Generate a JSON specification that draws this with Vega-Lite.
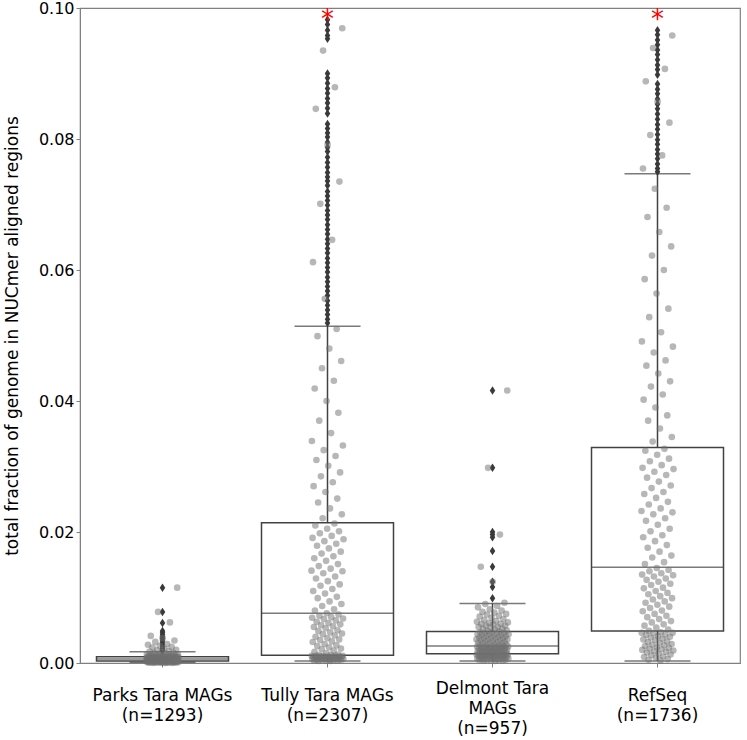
{
"$schema":"https://vega.github.io/schema/vega-lite/v6.json",
"width":660,"height":655,
"autosize":{"type":"none"},
"padding":{"left":80,"top":8,"right":7,"bottom":77},
"background":"white",
"config":{"view":{"stroke":"#808080","strokeWidth":1.2},"font":"DejaVu Sans"},
"resolve":{"scale":{"xOffset":"independent"}},
"datasets":{
"box":[
{"g":"Parks","lo":0.0001,"q1":0.0003,"med":0.0006,"q3":0.00096,"hi":0.0017},
{"g":"Tully","lo":0.0003,"q1":0.0012,"med":0.0076,"q3":0.0214,"hi":0.0514},
{"g":"Delmont","lo":0.0003,"q1":0.0014,"med":0.0026,"q3":0.0048,"hi":0.0091},
{"g":"RefSeq","lo":0.0003,"q1":0.0049,"med":0.0146,"q3":0.0329,"hi":0.0747}],
"star":[{"g":"Tully","v":0.0982},{"g":"RefSeq","v":0.0982}],
"out":[
{"g":"Parks","v":0.0115},{"g":"Parks","v":0.0078},{"g":"Parks","v":0.0061},{"g":"Parks","v":0.0049},{"g":"Parks","v":0.0046},{"g":"Parks","v":0.0043},{"g":"Parks","v":0.0040},{"g":"Parks","v":0.0037},{"g":"Parks","v":0.0034},{"g":"Parks","v":0.0031},{"g":"Parks","v":0.0028},{"g":"Parks","v":0.0025},{"g":"Parks","v":0.0022},{"g":"Parks","v":0.0019},
{"g":"Tully","v":0.0982},{"g":"Tully","v":0.0975},{"g":"Tully","v":0.0966},{"g":"Tully","v":0.0958},{"g":"Tully","v":0.0953},{"g":"Tully","v":0.0900},{"g":"Tully","v":0.0893},{"g":"Tully","v":0.0885},{"g":"Tully","v":0.0877},{"g":"Tully","v":0.0870},{"g":"Tully","v":0.0862},{"g":"Tully","v":0.0855},{"g":"Tully","v":0.0847},{"g":"Tully","v":0.0839},{"g":"Tully","v":0.0823},{"g":"Tully","v":0.0816},{"g":"Tully","v":0.0809},{"g":"Tully","v":0.0803},{"g":"Tully","v":0.0795},{"g":"Tully","v":0.0787},{"g":"Tully","v":0.0781},{"g":"Tully","v":0.0772},{"g":"Tully","v":0.0764},{"g":"Tully","v":0.0757},{"g":"Tully","v":0.0749},{"g":"Tully","v":0.0742},{"g":"Tully","v":0.0736},{"g":"Tully","v":0.0729},{"g":"Tully","v":0.0720},{"g":"Tully","v":0.0713},{"g":"Tully","v":0.0706},{"g":"Tully","v":0.0699},{"g":"Tully","v":0.0691},{"g":"Tully","v":0.0684},{"g":"Tully","v":0.0677},{"g":"Tully","v":0.0669},{"g":"Tully","v":0.0662},{"g":"Tully","v":0.0655},{"g":"Tully","v":0.0647},{"g":"Tully","v":0.0640},{"g":"Tully","v":0.0633},{"g":"Tully","v":0.0626},{"g":"Tully","v":0.0618},{"g":"Tully","v":0.0611},{"g":"Tully","v":0.0604},{"g":"Tully","v":0.0597},{"g":"Tully","v":0.0589},{"g":"Tully","v":0.0582},{"g":"Tully","v":0.0575},{"g":"Tully","v":0.0568},{"g":"Tully","v":0.0561},{"g":"Tully","v":0.0553},{"g":"Tully","v":0.0546},{"g":"Tully","v":0.0539},{"g":"Tully","v":0.0532},{"g":"Tully","v":0.0525},{"g":"Tully","v":0.0519},
{"g":"Delmont","v":0.0416},{"g":"Delmont","v":0.0298},{"g":"Delmont","v":0.0200},{"g":"Delmont","v":0.0196},{"g":"Delmont","v":0.0192},{"g":"Delmont","v":0.0171},{"g":"Delmont","v":0.0147},{"g":"Delmont","v":0.0124},{"g":"Delmont","v":0.0116},{"g":"Delmont","v":0.0099},
{"g":"RefSeq","v":0.0966},{"g":"RefSeq","v":0.0959},{"g":"RefSeq","v":0.0951},{"g":"RefSeq","v":0.0944},{"g":"RefSeq","v":0.0936},{"g":"RefSeq","v":0.0929},{"g":"RefSeq","v":0.0921},{"g":"RefSeq","v":0.0913},{"g":"RefSeq","v":0.0906},{"g":"RefSeq","v":0.0898},{"g":"RefSeq","v":0.0884},{"g":"RefSeq","v":0.0876},{"g":"RefSeq","v":0.0869},{"g":"RefSeq","v":0.0861},{"g":"RefSeq","v":0.0853},{"g":"RefSeq","v":0.0846},{"g":"RefSeq","v":0.0838},{"g":"RefSeq","v":0.0830},{"g":"RefSeq","v":0.0822},{"g":"RefSeq","v":0.0815},{"g":"RefSeq","v":0.0807},{"g":"RefSeq","v":0.0799},{"g":"RefSeq","v":0.0792},{"g":"RefSeq","v":0.0784},{"g":"RefSeq","v":0.0777},{"g":"RefSeq","v":0.0770},{"g":"RefSeq","v":0.0762},{"g":"RefSeq","v":0.0755},{"g":"RefSeq","v":0.0750}],
"pts":[
{"g":"Parks","v":0.00077},{"g":"Parks","v":0.00028},{"g":"Parks","v":0.00135},{"g":"Parks","v":0.00057},{"g":"Parks","v":0.00011},{"g":"Parks","v":0.0009},{"g":"Parks","v":0.00039},{"g":"Parks","v":0.00279},{"g":"Parks","v":0.00069},{"g":"Parks","v":0.00022},
{"g":"Parks","v":0.00112},{"g":"Parks","v":0.0005},{"g":"Parks","v":0.00004},{"g":"Parks","v":0.00082},{"g":"Parks","v":0.00032},{"g":"Parks","v":0.00176},{"g":"Parks","v":0.00061},{"g":"Parks","v":0.00015},{"g":"Parks","v":0.00095},{"g":"Parks","v":0.00043},
{"g":"Parks","v":0.00414},{"g":"Parks","v":0.00074},{"g":"Parks","v":0.00026},{"g":"Parks","v":0.00124},{"g":"Parks","v":0.00054},{"g":"Parks","v":0.00008},{"g":"Parks","v":0.00087},{"g":"Parks","v":0.00037},{"g":"Parks","v":0.00236},{"g":"Parks","v":0.00066},
{"g":"Parks","v":0.00019},{"g":"Parks","v":0.00105},{"g":"Parks","v":0.00047},{"g":"Parks","v":0.00002},{"g":"Parks","v":0.00079},{"g":"Parks","v":0.0003},{"g":"Parks","v":0.00151},{"g":"Parks","v":0.00058},{"g":"Parks","v":0.00012},{"g":"Parks","v":0.00092},
{"g":"Parks","v":0.00041},{"g":"Parks","v":0.00322},{"g":"Parks","v":0.00071},{"g":"Parks","v":0.00023},{"g":"Parks","v":0.00117},{"g":"Parks","v":0.00052},{"g":"Parks","v":0.00006},{"g":"Parks","v":0.00084},{"g":"Parks","v":0.00034},{"g":"Parks","v":0.00193},
{"g":"Parks","v":0.00063},{"g":"Parks","v":0.00017},{"g":"Parks","v":0.00098},{"g":"Parks","v":0.00045},{"g":"Parks","v":0.0078},{"g":"Parks","v":0.00076},{"g":"Parks","v":0.00027},{"g":"Parks","v":0.00129},{"g":"Parks","v":0.00056},{"g":"Parks","v":0.0001},
{"g":"Parks","v":0.00089},{"g":"Parks","v":0.00038},{"g":"Parks","v":0.00262},{"g":"Parks","v":0.00068},{"g":"Parks","v":0.00021},{"g":"Parks","v":0.0011},{"g":"Parks","v":0.00049},{"g":"Parks","v":0.00003},{"g":"Parks","v":0.00081},{"g":"Parks","v":0.00032},
{"g":"Parks","v":0.00166},{"g":"Parks","v":0.0006},{"g":"Parks","v":0.00014},{"g":"Parks","v":0.00094},{"g":"Parks","v":0.00042},{"g":"Parks","v":0.00379},{"g":"Parks","v":0.00073},{"g":"Parks","v":0.00025},{"g":"Parks","v":0.00121},{"g":"Parks","v":0.00053},
{"g":"Parks","v":0.00007},{"g":"Parks","v":0.00086},{"g":"Parks","v":0.00036},{"g":"Parks","v":0.0022},{"g":"Parks","v":0.00065},{"g":"Parks","v":0.00018},{"g":"Parks","v":0.00102},{"g":"Parks","v":0.00046},{"g":"Parks","v":0.00001},{"g":"Parks","v":0.00078},
{"g":"Parks","v":0.00029},{"g":"Parks","v":0.00141},{"g":"Parks","v":0.00057},{"g":"Parks","v":0.00011},{"g":"Parks","v":0.00091},{"g":"Parks","v":0.0004},{"g":"Parks","v":0.00289},{"g":"Parks","v":0.0007},{"g":"Parks","v":0.00022},{"g":"Parks","v":0.00114},
{"g":"Parks","v":0.00051},{"g":"Parks","v":0.00005},{"g":"Parks","v":0.00083},{"g":"Parks","v":0.00033},{"g":"Parks","v":0.00182},{"g":"Parks","v":0.00062},{"g":"Parks","v":0.00016},{"g":"Parks","v":0.00096},{"g":"Parks","v":0.00044},{"g":"Parks","v":0.0062},
{"g":"Parks","v":0.00075},{"g":"Parks","v":0.00026},{"g":"Parks","v":0.00126},{"g":"Parks","v":0.00055},{"g":"Parks","v":0.00009},{"g":"Parks","v":0.00088},{"g":"Parks","v":0.00037},{"g":"Parks","v":0.00246},{"g":"Parks","v":0.00067},{"g":"Parks","v":0.0002},
{"g":"Parks","v":0.00107},{"g":"Parks","v":0.00048},{"g":"Parks","v":0.00002},{"g":"Parks","v":0.0008},{"g":"Parks","v":0.0003},{"g":"Parks","v":0.00157},{"g":"Parks","v":0.00059},{"g":"Parks","v":0.00013},{"g":"Parks","v":0.00093},{"g":"Parks","v":0.00041},
{"g":"Parks","v":0.00344},{"g":"Parks","v":0.00072},{"g":"Parks","v":0.00024},{"g":"Parks","v":0.00119},{"g":"Parks","v":0.00052},{"g":"Parks","v":0.00006},{"g":"Parks","v":0.00085},{"g":"Parks","v":0.00035},{"g":"Parks","v":0.00203},{"g":"Parks","v":0.00064},
{"g":"Parks","v":0.00017},{"g":"Parks","v":0.001},{"g":"Parks","v":0.00045},{"g":"Parks","v":0.0115},{"g":"Parks","v":0.00077},{"g":"Parks","v":0.00028},{"g":"Parks","v":0.00131},{"g":"Parks","v":0.00056},{"g":"Parks","v":0.0001},{"g":"Parks","v":0.0009},
{"g":"Tully","v":0.0141},{"g":"Tully","v":0.0011},{"g":"Tully","v":0.0339},{"g":"Tully","v":0.0069},{"g":"Tully","v":0.0006},{"g":"Tully","v":0.0191},{"g":"Tully","v":0.0032},{"g":"Tully","v":0.0612},{"g":"Tully","v":0.0110},{"g":"Tully","v":0.0009},
{"g":"Tully","v":0.0270},{"g":"Tully","v":0.0055},{"g":"Tully","v":0.0004},{"g":"Tully","v":0.0160},{"g":"Tully","v":0.0017},{"g":"Tully","v":0.0419},{"g":"Tully","v":0.0080},{"g":"Tully","v":0.0008},{"g":"Tully","v":0.0210},{"g":"Tully","v":0.0040},
{"g":"Tully","v":0.0846},{"g":"Tully","v":0.0129},{"g":"Tully","v":0.0011},{"g":"Tully","v":0.0310},{"g":"Tully","v":0.0063},{"g":"Tully","v":0.0005},{"g":"Tully","v":0.0179},{"g":"Tully","v":0.0026},{"g":"Tully","v":0.0499},{"g":"Tully","v":0.0099},
{"g":"Tully","v":0.0009},{"g":"Tully","v":0.0245},{"g":"Tully","v":0.0049},{"g":"Tully","v":0.0003},{"g":"Tully","v":0.0148},{"g":"Tully","v":0.0012},{"g":"Tully","v":0.0370},{"g":"Tully","v":0.0072},{"g":"Tully","v":0.0007},{"g":"Tully","v":0.0198},
{"g":"Tully","v":0.0035},{"g":"Tully","v":0.0701},{"g":"Tully","v":0.0118},{"g":"Tully","v":0.0010},{"g":"Tully","v":0.0285},{"g":"Tully","v":0.0058},{"g":"Tully","v":0.0005},{"g":"Tully","v":0.0167},{"g":"Tully","v":0.0021},{"g":"Tully","v":0.0450},
{"g":"Tully","v":0.0087},{"g":"Tully","v":0.0008},{"g":"Tully","v":0.0221},{"g":"Tully","v":0.0044},{"g":"Tully","v":0.0935},{"g":"Tully","v":0.0137},{"g":"Tully","v":0.0011},{"g":"Tully","v":0.0325},{"g":"Tully","v":0.0067},{"g":"Tully","v":0.0006},
{"g":"Tully","v":0.0186},{"g":"Tully","v":0.0029},{"g":"Tully","v":0.0556},{"g":"Tully","v":0.0106},{"g":"Tully","v":0.0009},{"g":"Tully","v":0.0261},{"g":"Tully","v":0.0053},{"g":"Tully","v":0.0004},{"g":"Tully","v":0.0156},{"g":"Tully","v":0.0015},
{"g":"Tully","v":0.0400},{"g":"Tully","v":0.0076},{"g":"Tully","v":0.0007},{"g":"Tully","v":0.0205},{"g":"Tully","v":0.0038},{"g":"Tully","v":0.0791},{"g":"Tully","v":0.0125},{"g":"Tully","v":0.0010},{"g":"Tully","v":0.0301},{"g":"Tully","v":0.0061},
{"g":"Tully","v":0.0005},{"g":"Tully","v":0.0175},{"g":"Tully","v":0.0024},{"g":"Tully","v":0.0480},{"g":"Tully","v":0.0094},{"g":"Tully","v":0.0008},{"g":"Tully","v":0.0236},{"g":"Tully","v":0.0047},{"g":"Tully","v":0.0003},{"g":"Tully","v":0.0144},
{"g":"Tully","v":0.0012},{"g":"Tully","v":0.0351},{"g":"Tully","v":0.0070},{"g":"Tully","v":0.0006},{"g":"Tully","v":0.0194},{"g":"Tully","v":0.0033},{"g":"Tully","v":0.0646},{"g":"Tully","v":0.0113},{"g":"Tully","v":0.0010},{"g":"Tully","v":0.0276},
{"g":"Tully","v":0.0056},{"g":"Tully","v":0.0004},{"g":"Tully","v":0.0163},{"g":"Tully","v":0.0019},{"g":"Tully","v":0.0431},{"g":"Tully","v":0.0082},{"g":"Tully","v":0.0008},{"g":"Tully","v":0.0213},{"g":"Tully","v":0.0042},{"g":"Tully","v":0.0879},
{"g":"Tully","v":0.0132},{"g":"Tully","v":0.0011},{"g":"Tully","v":0.0316},{"g":"Tully","v":0.0065},{"g":"Tully","v":0.0006},{"g":"Tully","v":0.0182},{"g":"Tully","v":0.0027},{"g":"Tully","v":0.0510},{"g":"Tully","v":0.0101},{"g":"Tully","v":0.0009},
{"g":"Tully","v":0.0251},{"g":"Tully","v":0.0050},{"g":"Tully","v":0.0004},{"g":"Tully","v":0.0151},{"g":"Tully","v":0.0013},{"g":"Tully","v":0.0382},{"g":"Tully","v":0.0074},{"g":"Tully","v":0.0007},{"g":"Tully","v":0.0201},{"g":"Tully","v":0.0036},
{"g":"Tully","v":0.0735},{"g":"Tully","v":0.0120},{"g":"Tully","v":0.0010},{"g":"Tully","v":0.0291},{"g":"Tully","v":0.0059},{"g":"Tully","v":0.0005},{"g":"Tully","v":0.0170},{"g":"Tully","v":0.0022},{"g":"Tully","v":0.0461},{"g":"Tully","v":0.0090},
{"g":"Tully","v":0.0008},{"g":"Tully","v":0.0227},{"g":"Tully","v":0.0045},{"g":"Tully","v":0.0969},{"g":"Tully","v":0.0140},{"g":"Tully","v":0.0011},{"g":"Tully","v":0.0332},{"g":"Tully","v":0.0068},{"g":"Tully","v":0.0006},{"g":"Tully","v":0.0189},
{"g":"Delmont","v":0.0036},{"g":"Delmont","v":0.0013},{"g":"Delmont","v":0.0063},{"g":"Delmont","v":0.0025},{"g":"Delmont","v":0.0007},{"g":"Delmont","v":0.0044},{"g":"Delmont","v":0.0018},{"g":"Delmont","v":0.0085},{"g":"Delmont","v":0.0031},{"g":"Delmont","v":0.0011},
{"g":"Delmont","v":0.0055},{"g":"Delmont","v":0.0022},{"g":"Delmont","v":0.0005},{"g":"Delmont","v":0.0039},{"g":"Delmont","v":0.0015},{"g":"Delmont","v":0.0071},{"g":"Delmont","v":0.0027},{"g":"Delmont","v":0.0008},{"g":"Delmont","v":0.0047},{"g":"Delmont","v":0.0019},
{"g":"Delmont","v":0.0147},{"g":"Delmont","v":0.0035},{"g":"Delmont","v":0.0012},{"g":"Delmont","v":0.0060},{"g":"Delmont","v":0.0024},{"g":"Delmont","v":0.0006},{"g":"Delmont","v":0.0043},{"g":"Delmont","v":0.0017},{"g":"Delmont","v":0.0078},{"g":"Delmont","v":0.0030},
{"g":"Delmont","v":0.0010},{"g":"Delmont","v":0.0052},{"g":"Delmont","v":0.0021},{"g":"Delmont","v":0.0004},{"g":"Delmont","v":0.0038},{"g":"Delmont","v":0.0014},{"g":"Delmont","v":0.0066},{"g":"Delmont","v":0.0025},{"g":"Delmont","v":0.0008},{"g":"Delmont","v":0.0046},
{"g":"Delmont","v":0.0018},{"g":"Delmont","v":0.0090},{"g":"Delmont","v":0.0033},{"g":"Delmont","v":0.0011},{"g":"Delmont","v":0.0057},{"g":"Delmont","v":0.0023},{"g":"Delmont","v":0.0005},{"g":"Delmont","v":0.0041},{"g":"Delmont","v":0.0016},{"g":"Delmont","v":0.0074},
{"g":"Delmont","v":0.0028},{"g":"Delmont","v":0.0009},{"g":"Delmont","v":0.0049},{"g":"Delmont","v":0.0020},{"g":"Delmont","v":0.0298},{"g":"Delmont","v":0.0036},{"g":"Delmont","v":0.0013},{"g":"Delmont","v":0.0061},{"g":"Delmont","v":0.0024},{"g":"Delmont","v":0.0007},
{"g":"Delmont","v":0.0044},{"g":"Delmont","v":0.0017},{"g":"Delmont","v":0.0082},{"g":"Delmont","v":0.0031},{"g":"Delmont","v":0.0011},{"g":"Delmont","v":0.0054},{"g":"Delmont","v":0.0022},{"g":"Delmont","v":0.0004},{"g":"Delmont","v":0.0039},{"g":"Delmont","v":0.0015},
{"g":"Delmont","v":0.0069},{"g":"Delmont","v":0.0026},{"g":"Delmont","v":0.0008},{"g":"Delmont","v":0.0047},{"g":"Delmont","v":0.0019},{"g":"Delmont","v":0.0124},{"g":"Delmont","v":0.0034},{"g":"Delmont","v":0.0012},{"g":"Delmont","v":0.0059},{"g":"Delmont","v":0.0023},
{"g":"Delmont","v":0.0006},{"g":"Delmont","v":0.0042},{"g":"Delmont","v":0.0016},{"g":"Delmont","v":0.0077},{"g":"Delmont","v":0.0029},{"g":"Delmont","v":0.0010},{"g":"Delmont","v":0.0051},{"g":"Delmont","v":0.0021},{"g":"Delmont","v":0.0003},{"g":"Delmont","v":0.0037},
{"g":"Delmont","v":0.0014},{"g":"Delmont","v":0.0064},{"g":"Delmont","v":0.0025},{"g":"Delmont","v":0.0007},{"g":"Delmont","v":0.0045},{"g":"Delmont","v":0.0018},{"g":"Delmont","v":0.0087},{"g":"Delmont","v":0.0032},{"g":"Delmont","v":0.0011},{"g":"Delmont","v":0.0055},
{"g":"Delmont","v":0.0022},{"g":"Delmont","v":0.0005},{"g":"Delmont","v":0.0040},{"g":"Delmont","v":0.0015},{"g":"Delmont","v":0.0072},{"g":"Delmont","v":0.0027},{"g":"Delmont","v":0.0009},{"g":"Delmont","v":0.0048},{"g":"Delmont","v":0.0020},{"g":"Delmont","v":0.0196},
{"g":"Delmont","v":0.0035},{"g":"Delmont","v":0.0013},{"g":"Delmont","v":0.0060},{"g":"Delmont","v":0.0024},{"g":"Delmont","v":0.0006},{"g":"Delmont","v":0.0043},{"g":"Delmont","v":0.0017},{"g":"Delmont","v":0.0080},{"g":"Delmont","v":0.0030},{"g":"Delmont","v":0.0010},
{"g":"Delmont","v":0.0052},{"g":"Delmont","v":0.0021},{"g":"Delmont","v":0.0004},{"g":"Delmont","v":0.0038},{"g":"Delmont","v":0.0014},{"g":"Delmont","v":0.0067},{"g":"Delmont","v":0.0026},{"g":"Delmont","v":0.0008},{"g":"Delmont","v":0.0046},{"g":"Delmont","v":0.0019},
{"g":"Delmont","v":0.0092},{"g":"Delmont","v":0.0033},{"g":"Delmont","v":0.0012},{"g":"Delmont","v":0.0057},{"g":"Delmont","v":0.0023},{"g":"Delmont","v":0.0005},{"g":"Delmont","v":0.0041},{"g":"Delmont","v":0.0016},{"g":"Delmont","v":0.0075},{"g":"Delmont","v":0.0028},
{"g":"Delmont","v":0.0009},{"g":"Delmont","v":0.0050},{"g":"Delmont","v":0.0020},{"g":"Delmont","v":0.0416},{"g":"Delmont","v":0.0036},{"g":"Delmont","v":0.0013},{"g":"Delmont","v":0.0062},{"g":"Delmont","v":0.0025},{"g":"Delmont","v":0.0007},{"g":"Delmont","v":0.0044},
{"g":"RefSeq","v":0.0232},{"g":"RefSeq","v":0.0046},{"g":"RefSeq","v":0.0491},{"g":"RefSeq","v":0.0135},{"g":"RefSeq","v":0.0020},{"g":"RefSeq","v":0.0298},{"g":"RefSeq","v":0.0079},{"g":"RefSeq","v":0.0755},{"g":"RefSeq","v":0.0192},{"g":"RefSeq","v":0.0036},
{"g":"RefSeq","v":0.0402},{"g":"RefSeq","v":0.0114},{"g":"RefSeq","v":0.0009},{"g":"RefSeq","v":0.0258},{"g":"RefSeq","v":0.0057},{"g":"RefSeq","v":0.0586},{"g":"RefSeq","v":0.0151},{"g":"RefSeq","v":0.0026},{"g":"RefSeq","v":0.0324},{"g":"RefSeq","v":0.0092},
{"g":"RefSeq","v":0.0888},{"g":"RefSeq","v":0.0217},{"g":"RefSeq","v":0.0043},{"g":"RefSeq","v":0.0454},{"g":"RefSeq","v":0.0127},{"g":"RefSeq","v":0.0016},{"g":"RefSeq","v":0.0283},{"g":"RefSeq","v":0.0070},{"g":"RefSeq","v":0.0681},{"g":"RefSeq","v":0.0176},
{"g":"RefSeq","v":0.0032},{"g":"RefSeq","v":0.0370},{"g":"RefSeq","v":0.0105},{"g":"RefSeq","v":0.0005},{"g":"RefSeq","v":0.0242},{"g":"RefSeq","v":0.0049},{"g":"RefSeq","v":0.0528},{"g":"RefSeq","v":0.0140},{"g":"RefSeq","v":0.0022},{"g":"RefSeq","v":0.0308},
{"g":"RefSeq","v":0.0084},{"g":"RefSeq","v":0.0806},{"g":"RefSeq","v":0.0201},{"g":"RefSeq","v":0.0039},{"g":"RefSeq","v":0.0422},{"g":"RefSeq","v":0.0119},{"g":"RefSeq","v":0.0012},{"g":"RefSeq","v":0.0267},{"g":"RefSeq","v":0.0062},{"g":"RefSeq","v":0.0622},
{"g":"RefSeq","v":0.0161},{"g":"RefSeq","v":0.0028},{"g":"RefSeq","v":0.0338},{"g":"RefSeq","v":0.0097},{"g":"RefSeq","v":0.0939},{"g":"RefSeq","v":0.0227},{"g":"RefSeq","v":0.0045},{"g":"RefSeq","v":0.0474},{"g":"RefSeq","v":0.0132},{"g":"RefSeq","v":0.0018},
{"g":"RefSeq","v":0.0292},{"g":"RefSeq","v":0.0075},{"g":"RefSeq","v":0.0724},{"g":"RefSeq","v":0.0186},{"g":"RefSeq","v":0.0035},{"g":"RefSeq","v":0.0390},{"g":"RefSeq","v":0.0110},{"g":"RefSeq","v":0.0008},{"g":"RefSeq","v":0.0252},{"g":"RefSeq","v":0.0054},
{"g":"RefSeq","v":0.0564},{"g":"RefSeq","v":0.0145},{"g":"RefSeq","v":0.0024},{"g":"RefSeq","v":0.0318},{"g":"RefSeq","v":0.0089},{"g":"RefSeq","v":0.0857},{"g":"RefSeq","v":0.0211},{"g":"RefSeq","v":0.0041},{"g":"RefSeq","v":0.0442},{"g":"RefSeq","v":0.0124},
{"g":"RefSeq","v":0.0014},{"g":"RefSeq","v":0.0277},{"g":"RefSeq","v":0.0067},{"g":"RefSeq","v":0.0658},{"g":"RefSeq","v":0.0170},{"g":"RefSeq","v":0.0031},{"g":"RefSeq","v":0.0358},{"g":"RefSeq","v":0.0102},{"g":"RefSeq","v":0.0004},{"g":"RefSeq","v":0.0236},
{"g":"RefSeq","v":0.0047},{"g":"RefSeq","v":0.0505},{"g":"RefSeq","v":0.0137},{"g":"RefSeq","v":0.0021},{"g":"RefSeq","v":0.0302},{"g":"RefSeq","v":0.0080},{"g":"RefSeq","v":0.0775},{"g":"RefSeq","v":0.0195},{"g":"RefSeq","v":0.0037},{"g":"RefSeq","v":0.0410},
{"g":"RefSeq","v":0.0115},{"g":"RefSeq","v":0.0010},{"g":"RefSeq","v":0.0261},{"g":"RefSeq","v":0.0059},{"g":"RefSeq","v":0.0600},{"g":"RefSeq","v":0.0154},{"g":"RefSeq","v":0.0027},{"g":"RefSeq","v":0.0327},{"g":"RefSeq","v":0.0094},{"g":"RefSeq","v":0.0907},
{"g":"RefSeq","v":0.0221},{"g":"RefSeq","v":0.0043},{"g":"RefSeq","v":0.0462},{"g":"RefSeq","v":0.0129},{"g":"RefSeq","v":0.0017},{"g":"RefSeq","v":0.0287},{"g":"RefSeq","v":0.0072},{"g":"RefSeq","v":0.0695},{"g":"RefSeq","v":0.0180},{"g":"RefSeq","v":0.0033},
{"g":"RefSeq","v":0.0378},{"g":"RefSeq","v":0.0107},{"g":"RefSeq","v":0.0006},{"g":"RefSeq","v":0.0246},{"g":"RefSeq","v":0.0051},{"g":"RefSeq","v":0.0541},{"g":"RefSeq","v":0.0142},{"g":"RefSeq","v":0.0023},{"g":"RefSeq","v":0.0312},{"g":"RefSeq","v":0.0086},
{"g":"RefSeq","v":0.0825},{"g":"RefSeq","v":0.0205},{"g":"RefSeq","v":0.0040},{"g":"RefSeq","v":0.0430},{"g":"RefSeq","v":0.0121},{"g":"RefSeq","v":0.0013},{"g":"RefSeq","v":0.0271},{"g":"RefSeq","v":0.0064},{"g":"RefSeq","v":0.0636},{"g":"RefSeq","v":0.0164},
{"g":"RefSeq","v":0.0029},{"g":"RefSeq","v":0.0345},{"g":"RefSeq","v":0.0099},{"g":"RefSeq","v":0.0958},{"g":"RefSeq","v":0.0230},{"g":"RefSeq","v":0.0046},{"g":"RefSeq","v":0.0483},{"g":"RefSeq","v":0.0134},{"g":"RefSeq","v":0.0019},{"g":"RefSeq","v":0.0296}]
},
"encoding":{
"x":{"field":"g","type":"nominal","sort":["Parks","Tully","Delmont","RefSeq"],
"scale":{"paddingInner":0,"paddingOuter":0},
"axis":{"title":null,"labelAngle":0,"labelFontSize":17,"labelColor":"#000000","labelLineHeight":20,"labelBaseline":"middle",
"labelPadding":{"condition":{"test":"datum.value == 'Delmont'","value":21},"value":28},
"tickSize":4,"tickColor":"#808080","domainColor":"#808080","labelOverlap":false,
"labelExpr":"datum.value == 'Parks' ? ['Parks Tara MAGs','(n=1293)'] : datum.value == 'Tully' ? ['Tully Tara MAGs','(n=2307)'] : datum.value == 'Delmont' ? ['Delmont Tara','MAGs','(n=957)'] : ['RefSeq','(n=1736)']"}}
},
"layer":[
{"data":{"name":"box"},"mark":{"type":"rule","color":"#424242","strokeWidth":1.5},
"encoding":{"y":{"field":"lo","type":"quantitative","scale":{"domain":[0,0.1],"nice":false,"zero":false},
"axis":{"title":"total fraction of genome in NUCmer aligned regions","values":[0,0.02,0.04,0.06,0.08,0.1],"format":".2f","grid":false,"labelFontSize":16,"labelColor":"#000000","titleFontSize":17,"titleFontWeight":"normal","titleColor":"#000000","titlePadding":17,"tickSize":4,"tickColor":"#808080","domainColor":"#808080"}},
"y2":{"field":"hi"}}},
{"data":{"name":"box"},"mark":{"type":"bar","fill":"white","stroke":"#424242","strokeWidth":1.5,"width":{"band":0.8}},
"encoding":{"y":{"field":"q1","type":"quantitative"},"y2":{"field":"q3"}}},
{"data":{"name":"box"},"mark":{"type":"tick","color":"#424242","size":132,"thickness":1.5},
"encoding":{"y":{"field":"med","type":"quantitative"}}},
{"data":{"name":"box"},"mark":{"type":"tick","color":"#424242","size":66,"thickness":1.5},
"encoding":{"y":{"field":"hi","type":"quantitative"}}},
{"data":{"name":"box"},"mark":{"type":"tick","color":"#424242","size":66,"thickness":1.5},
"encoding":{"y":{"field":"lo","type":"quantitative"}}},
{"data":{"name":"out"},"mark":{"type":"point","shape":"M0,-1L0.65,0L0,1L-0.65,0Z","filled":true,"color":"#3a3a3a","opacity":1,"size":72},
"encoding":{"y":{"field":"v","type":"quantitative"}}},
{"data":{"name":"pts"},"transform":[{"window":[{"op":"row_number","as":"i"}],"groupby":["g"]}],
"mark":{"type":"circle","color":"#707070","opacity":0.5,"size":44},
"encoding":{"y":{"field":"v","type":"quantitative"},
"xOffset":{"field":"i","type":"quantitative","scale":{"domain":[-308,459]}}}},
{"data":{"name":"star"},"mark":{"type":"text","text":"*","color":"#ff0000","fontSize":26,"baseline":"middle","font":"DejaVu Sans"},
"encoding":{"y":{"field":"v","type":"quantitative"}}}
]
}
